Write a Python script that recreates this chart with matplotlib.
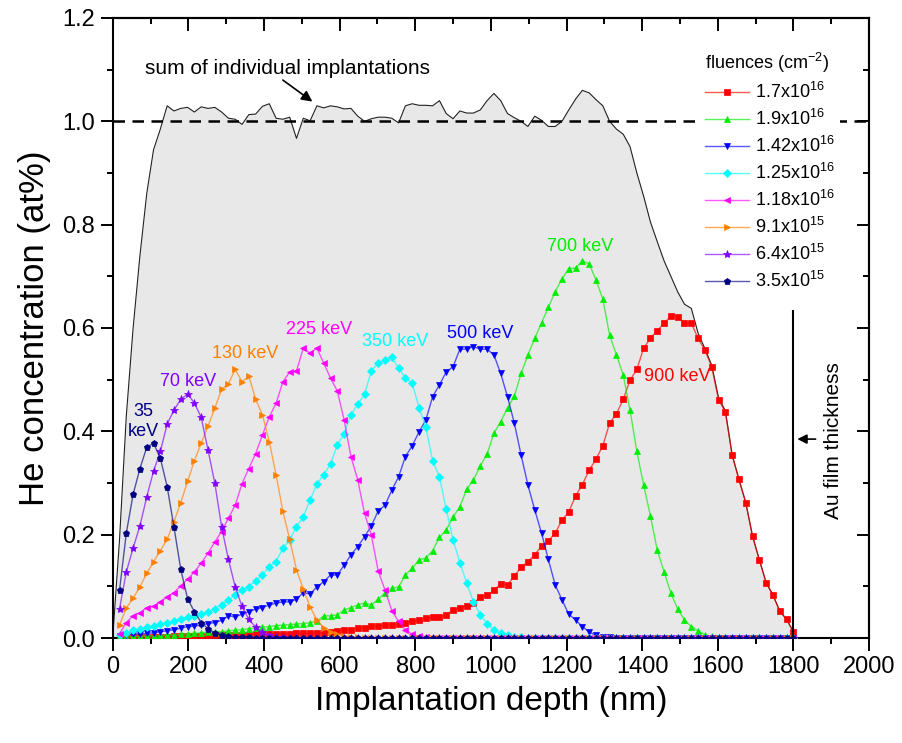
import numpy as np
import matplotlib
matplotlib.use("Agg")
import matplotlib.pyplot as plt
from matplotlib.ticker import MultipleLocator, FormatStrFormatter

plt.rcParams['font.family'] = ['Liberation Sans', 'DejaVu Sans']
plt.rcParams['mathtext.fontset'] = 'custom'
plt.rcParams['mathtext.rm'] = 'Liberation Sans'
plt.rcParams['mathtext.it'] = 'Liberation Sans:italic'
plt.rcParams['mathtext.bf'] = 'Liberation Sans:bold'

# depth grid of the implantation profiles (nm)
depth = np.arange(18, 1801, 18)

# He concentration (at%) for each implantation energy
he_900kev = [
    0.001, 0.001, 0.001, 0.001, 0.002, 0.002, 0.002, 0.002, 0.003, 0.003,
    0.003, 0.004, 0.004, 0.004, 0.005, 0.005, 0.005, 0.006, 0.006, 0.006,
    0.007, 0.007, 0.007, 0.008, 0.008, 0.008, 0.009, 0.009, 0.009, 0.010,
    0.010, 0.012, 0.014, 0.016, 0.016, 0.019, 0.019, 0.023, 0.023, 0.025,
    0.025, 0.027, 0.030, 0.032, 0.035, 0.038, 0.040, 0.040, 0.045, 0.054,
    0.059, 0.062, 0.068, 0.079, 0.083, 0.092, 0.105, 0.103, 0.120, 0.137,
    0.148, 0.161, 0.178, 0.188, 0.203, 0.228, 0.244, 0.275, 0.297, 0.325,
    0.346, 0.372, 0.416, 0.434, 0.462, 0.499, 0.520, 0.561, 0.580, 0.595,
    0.609, 0.623, 0.622, 0.609, 0.609, 0.580, 0.557, 0.525, 0.461, 0.438,
    0.354, 0.307, 0.262, 0.197, 0.151, 0.107, 0.083, 0.052, 0.036, 0.012]
he_700kev = [
    0.002, 0.002, 0.003, 0.003, 0.004, 0.004, 0.005, 0.006, 0.006, 0.007,
    0.008, 0.009, 0.010, 0.011, 0.012, 0.012, 0.014, 0.015, 0.016, 0.018,
    0.019, 0.021, 0.022, 0.024, 0.025, 0.026, 0.027, 0.028, 0.030, 0.032,
    0.043, 0.043, 0.045, 0.054, 0.059, 0.064, 0.068, 0.064, 0.075, 0.087,
    0.096, 0.099, 0.122, 0.135, 0.151, 0.155, 0.169, 0.195, 0.209, 0.234,
    0.254, 0.288, 0.306, 0.333, 0.356, 0.396, 0.419, 0.445, 0.468, 0.512,
    0.548, 0.580, 0.610, 0.640, 0.670, 0.695, 0.715, 0.716, 0.730, 0.724,
    0.693, 0.656, 0.586, 0.548, 0.509, 0.441, 0.361, 0.296, 0.236, 0.170,
    0.128, 0.087, 0.056, 0.035, 0.022, 0.014, 0.006, 0.003, 0.001, 0.0,
    0.0, 0.0, 0.0, 0.0, 0.0, 0.0, 0.0, 0.0, 0.0, 0.0]
he_500kev = [
    0.004, 0.006, 0.008, 0.008, 0.009, 0.010, 0.012, 0.014, 0.016, 0.019,
    0.022, 0.023, 0.025, 0.028, 0.030, 0.034, 0.043, 0.041, 0.046, 0.051,
    0.056, 0.059, 0.064, 0.067, 0.070, 0.070, 0.075, 0.088, 0.085, 0.099,
    0.109, 0.122, 0.122, 0.141, 0.161, 0.177, 0.196, 0.217, 0.246, 0.257,
    0.286, 0.312, 0.351, 0.372, 0.399, 0.422, 0.467, 0.490, 0.515, 0.525,
    0.559, 0.559, 0.564, 0.559, 0.559, 0.548, 0.512, 0.467, 0.416, 0.354,
    0.296, 0.248, 0.203, 0.152, 0.103, 0.074, 0.046, 0.035, 0.022, 0.012,
    0.005, 0.002, 0.001, 0.0, 0.0, 0.0, 0.0, 0.0, 0.0, 0.0,
    0.0, 0.0, 0.0, 0.0, 0.0, 0.0, 0.0, 0.0, 0.0, 0.0,
    0.0, 0.0, 0.0, 0.0, 0.0, 0.0, 0.0, 0.0, 0.0, 0.0]
he_350kev = [
    0.006, 0.010, 0.016, 0.017, 0.022, 0.024, 0.027, 0.030, 0.033, 0.036,
    0.040, 0.043, 0.046, 0.051, 0.057, 0.064, 0.074, 0.083, 0.093, 0.099,
    0.111, 0.122, 0.138, 0.148, 0.174, 0.190, 0.215, 0.235, 0.267, 0.298,
    0.316, 0.337, 0.374, 0.395, 0.432, 0.452, 0.472, 0.517, 0.532, 0.539,
    0.543, 0.522, 0.503, 0.493, 0.446, 0.408, 0.343, 0.312, 0.249, 0.190,
    0.146, 0.107, 0.070, 0.045, 0.028, 0.016, 0.009, 0.005, 0.002, 0.001,
    0.0, 0.0, 0.0, 0.0, 0.0, 0.0, 0.0, 0.0, 0.0, 0.0,
    0.0, 0.0, 0.0, 0.0, 0.0, 0.0, 0.0, 0.0, 0.0, 0.0,
    0.0, 0.0, 0.0, 0.0, 0.0, 0.0, 0.0, 0.0, 0.0, 0.0,
    0.0, 0.0, 0.0, 0.0, 0.0, 0.0, 0.0, 0.0, 0.0, 0.0]
he_225kev = [
    0.008, 0.030, 0.043, 0.049, 0.059, 0.061, 0.070, 0.080, 0.088, 0.101,
    0.114, 0.128, 0.145, 0.164, 0.186, 0.206, 0.232, 0.257, 0.299, 0.328,
    0.357, 0.393, 0.428, 0.454, 0.496, 0.515, 0.517, 0.561, 0.551, 0.561,
    0.532, 0.503, 0.478, 0.422, 0.351, 0.306, 0.241, 0.199, 0.130, 0.093,
    0.053, 0.032, 0.016, 0.007, 0.003, 0.001, 0.0, 0.0, 0.0, 0.0,
    0.0, 0.0, 0.0, 0.0, 0.0, 0.0, 0.0, 0.0, 0.0, 0.0,
    0.0, 0.0, 0.0, 0.0, 0.0, 0.0, 0.0, 0.0, 0.0, 0.0,
    0.0, 0.0, 0.0, 0.0, 0.0, 0.0, 0.0, 0.0, 0.0, 0.0,
    0.0, 0.0, 0.0, 0.0, 0.0, 0.0, 0.0, 0.0, 0.0, 0.0,
    0.0, 0.0, 0.0, 0.0, 0.0, 0.0, 0.0, 0.0, 0.0, 0.0]
he_130kev = [
    0.025, 0.058, 0.077, 0.099, 0.125, 0.148, 0.169, 0.191, 0.225, 0.262,
    0.303, 0.343, 0.377, 0.410, 0.445, 0.481, 0.492, 0.520, 0.496, 0.507,
    0.462, 0.432, 0.380, 0.316, 0.245, 0.191, 0.132, 0.095, 0.060, 0.035,
    0.020, 0.012, 0.007, 0.004, 0.002, 0.001, 0.0, 0.0, 0.0, 0.0,
    0.0, 0.0, 0.0, 0.0, 0.0, 0.0, 0.0, 0.0, 0.0, 0.0,
    0.0, 0.0, 0.0, 0.0, 0.0, 0.0, 0.0, 0.0, 0.0, 0.0,
    0.0, 0.0, 0.0, 0.0, 0.0, 0.0, 0.0, 0.0, 0.0, 0.0,
    0.0, 0.0, 0.0, 0.0, 0.0, 0.0, 0.0, 0.0, 0.0, 0.0,
    0.0, 0.0, 0.0, 0.0, 0.0, 0.0, 0.0, 0.0, 0.0, 0.0,
    0.0, 0.0, 0.0, 0.0, 0.0, 0.0, 0.0, 0.0, 0.0, 0.0]
he_70kev = [
    0.056, 0.128, 0.174, 0.217, 0.273, 0.323, 0.361, 0.414, 0.441, 0.462,
    0.472, 0.455, 0.427, 0.364, 0.300, 0.215, 0.152, 0.099, 0.061, 0.036,
    0.021, 0.011, 0.005, 0.002, 0.001, 0.0, 0.0, 0.0, 0.0, 0.0,
    0.0, 0.0, 0.0, 0.0, 0.0, 0.0, 0.0, 0.0, 0.0, 0.0,
    0.0, 0.0, 0.0, 0.0, 0.0, 0.0, 0.0, 0.0, 0.0, 0.0,
    0.0, 0.0, 0.0, 0.0, 0.0, 0.0, 0.0, 0.0, 0.0, 0.0,
    0.0, 0.0, 0.0, 0.0, 0.0, 0.0, 0.0, 0.0, 0.0, 0.0,
    0.0, 0.0, 0.0, 0.0, 0.0, 0.0, 0.0, 0.0, 0.0, 0.0,
    0.0, 0.0, 0.0, 0.0, 0.0, 0.0, 0.0, 0.0, 0.0, 0.0,
    0.0, 0.0, 0.0, 0.0, 0.0, 0.0, 0.0, 0.0, 0.0, 0.0]
he_35kev = [
    0.092, 0.203, 0.278, 0.328, 0.369, 0.377, 0.348, 0.293, 0.215, 0.133,
    0.076, 0.051, 0.030, 0.018, 0.010, 0.005, 0.003, 0.002, 0.001, 0.001,
    0.0, 0.0, 0.0, 0.0, 0.0, 0.0, 0.0, 0.0, 0.0, 0.0,
    0.0, 0.0, 0.0, 0.0, 0.0, 0.0, 0.0, 0.0, 0.0, 0.0,
    0.0, 0.0, 0.0, 0.0, 0.0, 0.0, 0.0, 0.0, 0.0, 0.0,
    0.0, 0.0, 0.0, 0.0, 0.0, 0.0, 0.0, 0.0, 0.0, 0.0,
    0.0, 0.0, 0.0, 0.0, 0.0, 0.0, 0.0, 0.0, 0.0, 0.0,
    0.0, 0.0, 0.0, 0.0, 0.0, 0.0, 0.0, 0.0, 0.0, 0.0,
    0.0, 0.0, 0.0, 0.0, 0.0, 0.0, 0.0, 0.0, 0.0, 0.0,
    0.0, 0.0, 0.0, 0.0, 0.0, 0.0, 0.0, 0.0, 0.0, 0.0]

# summed profile of all implantations
sum_depth = np.arange(0, 1801, 18)
he_sum = [
    0.0, 0.19, 0.43, 0.60, 0.74, 0.86, 0.945, 0.985, 1.030, 1.020, 1.025,
    1.027, 1.018, 1.028, 1.025, 1.027, 1.018, 1.006, 1.004, 0.994, 1.013,
    1.014, 1.029, 1.034, 1.006, 1.004, 1.008, 0.967, 1.006, 1.001, 1.030,
    1.026, 1.030, 1.028, 1.024, 1.025, 1.010, 1.000, 1.005, 1.008, 1.008,
    1.006, 0.997, 1.030, 1.034, 1.031, 1.031, 1.030, 1.040, 1.015, 1.005,
    1.020, 1.016, 1.016, 1.022, 1.040, 1.054, 1.040, 1.015, 1.007, 1.000,
    0.990, 1.010, 1.002, 0.990, 0.990, 1.000, 1.022, 1.043, 1.060, 1.055,
    1.042, 1.030, 1.000, 0.985, 0.975, 0.951, 0.900, 0.855, 0.805, 0.767,
    0.730, 0.700, 0.670, 0.646, 0.638, 0.590, 0.560, 0.528, 0.465, 0.440,
    0.354, 0.307, 0.262, 0.197, 0.151, 0.107, 0.083, 0.052, 0.036, 0.012]

fluences = [r'1.7x10$^{16}$', r'1.9x10$^{16}$', r'1.42x10$^{16}$', r'1.25x10$^{16}$',
            r'1.18x10$^{16}$', r'9.1x10$^{15}$', r'6.4x10$^{15}$', r'3.5x10$^{15}$']
energies = ['900 keV', '700 keV', '500 keV', '350 keV', '225 keV', '130 keV', '70 keV', '35\nkeV']
profiles = [he_900kev, he_700kev, he_500kev, he_350kev, he_225kev, he_130kev, he_70kev, he_35kev]
colors = ['#FF0000', '#00EE00', '#0000FF', '#00FFFF', '#FF00FF', '#FF8000', '#8000FF', '#000080']
markers = ['s', '^', 'v', 'D', '<', '>', '*', 'p']
msizes = [4.4, 5, 5, 4, 5, 5, 6, 5]
# label anchor points (depth nm, concentration)
label_pos = [(1494, 0.507), (1236, 0.757), (971, 0.590), (746, 0.573),
             (545, 0.598), (350, 0.550), (199, 0.497), (80, 0.419)]

film_thickness = 1800

fig = plt.figure(figsize=(9.03, 7.43), dpi=100)
ax = fig.add_axes([0.1248, 0.1413, 0.8376, 0.8345])

ax.fill_between(sum_depth, he_sum, 0, color='#E8E8E8', lw=0, zorder=1)
ax.plot(sum_depth, he_sum, color='#222222', lw=0.8, zorder=2)
ax.axhline(1.0, color='black', lw=1.8, ls=(0, (4.6, 3.0)), zorder=2)

for vals, c, m, ms, lab in zip(profiles, colors, markers, msizes, fluences):
    rgba = matplotlib.colors.to_rgba(c, 0.65)
    ax.plot(depth, vals, color=rgba, lw=1.0, marker=m, ms=ms,
            mfc=c, mec=c, mew=0.5, label=lab, zorder=3)

for (x, y), txt, c in zip(label_pos, energies, colors):
    ax.text(x, y, txt, color=c, fontsize=13, ha='center', va='center',
            linespacing=1.25, zorder=4)

# Au film boundary
ax.vlines(film_thickness, 0, 0.635, color='black', lw=1.5, zorder=4)
ax.annotate('', xy=(film_thickness + 3, 0.385), xytext=(film_thickness + 66, 0.385),
            arrowprops=dict(arrowstyle='-|>', color='black', lw=1.2, mutation_scale=14))
ax.text(film_thickness + 105, 0.383, 'Au film thickness', rotation=90,
        ha='center', va='center', fontsize=15)

ax.text(85, 1.103, 'sum of individual implantations', ha='left', va='center', fontsize=15)
ax.annotate('', xy=(534, 1.035), xytext=(444, 1.083),
            arrowprops=dict(arrowstyle='-|>', color='black', lw=1.2, mutation_scale=16))

ax.set_xlim(0, 2000)
ax.set_ylim(0, 1.2)
ax.xaxis.set_major_locator(MultipleLocator(200))
ax.xaxis.set_minor_locator(MultipleLocator(100))
ax.yaxis.set_major_locator(MultipleLocator(0.2))
ax.yaxis.set_minor_locator(MultipleLocator(0.1))
ax.yaxis.set_major_formatter(FormatStrFormatter('%.1f'))
ax.tick_params(which='major', direction='out', length=9, width=1.4, labelsize=17, pad=4)
ax.tick_params(which='minor', direction='out', length=4.5, width=1.4)
for sp in ax.spines.values():
    sp.set_linewidth(1.5)

top = ax.secondary_xaxis('top')
top.xaxis.set_major_locator(MultipleLocator(200))
top.xaxis.set_minor_locator(MultipleLocator(100))
top.tick_params(which='major', direction='in', length=9, width=1.4, labeltop=False)
top.tick_params(which='minor', direction='in', length=4.5, width=1.4)
top.spines['top'].set_linewidth(1.5)
right = ax.secondary_yaxis('right')
right.yaxis.set_major_locator(MultipleLocator(0.2))
right.yaxis.set_minor_locator(MultipleLocator(0.1))
right.tick_params(which='major', direction='in', length=9, width=1.4, labelright=False)
right.tick_params(which='minor', direction='in', length=4.5, width=1.4)
right.spines['right'].set_linewidth(1.5)

ax.set_xlabel('Implantation depth (nm)', fontsize=24, labelpad=6)
ax.set_ylabel('He concentration (at%)', fontsize=25, labelpad=8)

leg = ax.legend(loc='upper left', bbox_to_anchor=(0.7766, 0.955), fontsize=13,
                title=r'fluences (cm$^{-2}$)', title_fontsize=13, alignment='left',
                frameon=True, facecolor='white', edgecolor='none', framealpha=1,
                handlelength=2.4, handletextpad=0.35, labelspacing=0.38,
                borderpad=0.3, borderaxespad=0)
leg.set_zorder(5)

fig.savefig('out.png', dpi=100)
